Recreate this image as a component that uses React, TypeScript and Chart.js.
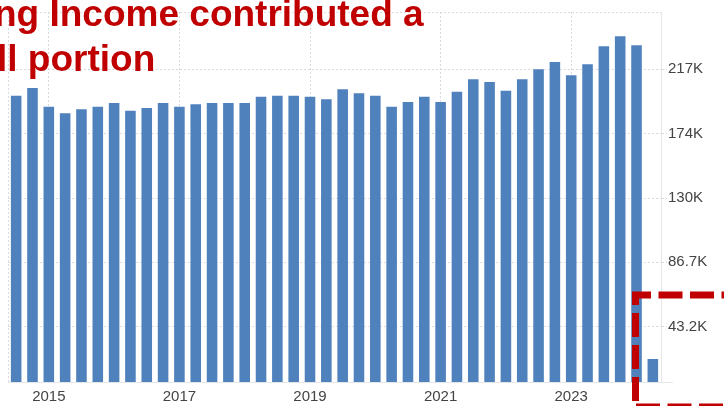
import React, { useEffect, useRef } from "react";
import { Chart, registerables } from "chart.js";

Chart.register(...registerables);

const categories = [
  "Q2 2014", "Q3 2014", "Q4 2014", "Q1 2015", "Q2 2015", "Q3 2015", "Q4 2015", "Q1 2016",
  "Q2 2016", "Q3 2016", "Q4 2016", "Q1 2017", "Q2 2017", "Q3 2017", "Q4 2017", "Q1 2018",
  "Q2 2018", "Q3 2018", "Q4 2018", "Q1 2019", "Q2 2019", "Q3 2019", "Q4 2019", "Q1 2020",
  "Q2 2020", "Q3 2020", "Q4 2020", "Q1 2021", "Q2 2021", "Q3 2021", "Q4 2021", "Q1 2022",
  "Q2 2022", "Q3 2022", "Q4 2022", "Q1 2023", "Q2 2023", "Q3 2023", "Q4 2023", "Q1 2024",
];

// values in thousands
const values = [
  199.6, 204.8, 192.2, 187.8, 190.5, 192.2, 194.7, 189.5,
  191.4, 194.7, 192.2, 193.8, 194.7, 194.7, 194.7, 199.0,
  199.6, 199.6, 199.0, 197.2, 204.0, 201.3, 199.6, 192.2,
  195.4, 199.0, 195.4, 202.3, 210.7, 208.9, 203.0, 210.7,
  217.4, 222.3, 213.4, 220.8, 232.9, 239.7, 233.6, 22.3,
];

const xTickCategories = ["Q4 2014", "Q4 2016", "Q4 2018", "Q4 2020", "Q4 2022"];
const xTickLabels = ["2015", "2017", "2019", "2021", "2023"];

const yTickValues = [43.35, 86.7, 130.05, 173.4, 216.75];
const yTickLabels = ["43.2K", "86.7K", "130K", "174K", "217K"];
const yMin = 6.1;
const yMax = 255.35;

const titleLine1 = "ng Income contributed a";
const titleLine2 = "ll portion";

const FONT = '"Liberation Sans", Arial, "DejaVu Sans", sans-serif';

const overlayPlugin = {
  id: "overlay",
  beforeDatasetsDraw(chart: any) {
    const { ctx, chartArea } = chart;
    ctx.save();
    ctx.strokeStyle = "#dcdcdc";
    ctx.lineWidth = 1;
    ctx.setLineDash([2, 2]);
    ctx.beginPath();
    ctx.moveTo(chartArea.left, chartArea.top + 0.5);
    ctx.lineTo(chartArea.right, chartArea.top + 0.5);
    ctx.moveTo(chartArea.left + 0.5, chartArea.top);
    ctx.lineTo(chartArea.left + 0.5, chartArea.bottom);
    ctx.stroke();
    ctx.restore();
  },
  afterDraw(chart: any) {
    const { ctx, chartArea } = chart;
    ctx.save();
    // baseline extension
    ctx.strokeStyle = "#e6e6e6";
    ctx.lineWidth = 1;
    ctx.beginPath();
    ctx.moveTo(chartArea.right, chartArea.bottom + 0.5);
    ctx.lineTo(chartArea.right + 12, chartArea.bottom + 0.5);
    ctx.stroke();

    // red dashed annotation box
    ctx.strokeStyle = "#c00000";
    ctx.lineWidth = 7;
    ctx.lineCap = "butt";
    ctx.setLineDash([24, 7.5]);
    ctx.lineDashOffset = 5;
    ctx.beginPath();
    ctx.moveTo(632, 295);
    ctx.lineTo(740, 295);
    ctx.stroke();

    ctx.setLineDash([24, 8]);
    ctx.lineDashOffset = 11;
    ctx.beginPath();
    ctx.moveTo(635.5, 292);
    ctx.lineTo(635.5, 402);
    ctx.stroke();

    ctx.setLineDash([24, 7.5]);
    ctx.lineDashOffset = 0;
    ctx.beginPath();
    ctx.moveTo(636, 407);
    ctx.lineTo(740, 407);
    ctx.stroke();
    ctx.restore();
  },
};

export default function App() {
  const canvasRef = useRef<HTMLCanvasElement | null>(null);

  useEffect(() => {
    if (!canvasRef.current) return;
    const chart = new Chart(canvasRef.current, {
      type: "bar",
      data: {
        labels: categories,
        datasets: [
          {
            data: values,
            backgroundColor: "#4f81bd",
            borderColor: "rgba(255,255,255,0.45)",
            borderWidth: 1,
            barPercentage: 0.77,
            categoryPercentage: 1,
          },
        ],
      },
      options: {
        responsive: false,
        devicePixelRatio: 1,
        animation: false,
        layout: { padding: { left: 8, top: 12, right: 0, bottom: 0 } },
        plugins: {
          legend: { display: false },
          tooltip: { enabled: false },
        },
        scales: {
          x: {
            type: "category",
            offset: true,
            grid: {
              offset: false,
              drawTicks: false,
              color: (ctx: any) =>
                xTickCategories.includes(categories[ctx.index]) ? "#d9d9d9" : "rgba(0,0,0,0)",
              lineWidth: 1,
            },
            border: { display: true, color: "#e6e6e6", dash: [2, 2] },
            ticks: {
              autoSkip: false,
              maxRotation: 0,
              minRotation: 0,
              padding: 6,
              color: "#444",
              font: { family: FONT, size: 15 },
              callback: (_v: any, index: number) => {
                const i = xTickCategories.indexOf(categories[index]);
                return i >= 0 ? xTickLabels[i] : "";
              },
            },
            afterFit: (scale: any) => {
              scale.height = 24;
            },
          },
          y: {
            type: "linear",
            position: "right",
            min: yMin,
            max: yMax,
            afterBuildTicks: (scale: any) => {
              scale.ticks = yTickValues.map((v) => ({ value: v }));
            },
            grid: {
              color: "#d9d9d9",
              drawTicks: true,
              tickLength: 6,
              tickBorderDash: [2, 2],
            },
            border: { display: true, color: "#e6e6e6", dash: [2, 2] },
            ticks: {
              padding: 1,
              color: "#444",
              font: { family: FONT, size: 15 },
              callback: (_v: any, index: number) => yTickLabels[index],
            },
            afterFit: (scale: any) => {
              scale.width = 63;
            },
          },
        },
      },
      plugins: [overlayPlugin],
    } as any);
    return () => chart.destroy();
  }, []);

  return (
    <div
      style={{
        position: "absolute",
        left: 0,
        top: 0,
        width: 724,
        height: 406,
        overflow: "hidden",
        background: "#fff",
      }}
    >
      <canvas ref={canvasRef} width={724} height={406} style={{ display: "block" }} />
      <div
        style={{
          position: "absolute",
          left: -6,
          top: -9,
          font: `bold 37px ${FONT}`,
          lineHeight: "45px",
          color: "#c00000",
          whiteSpace: "nowrap",
        }}
      >
        {titleLine1}
      </div>
      <div
        style={{
          position: "absolute",
          left: -3,
          top: 36,
          font: `bold 37px ${FONT}`,
          lineHeight: "45px",
          color: "#c00000",
          whiteSpace: "nowrap",
        }}
      >
        {titleLine2}
      </div>
    </div>
  );
}
